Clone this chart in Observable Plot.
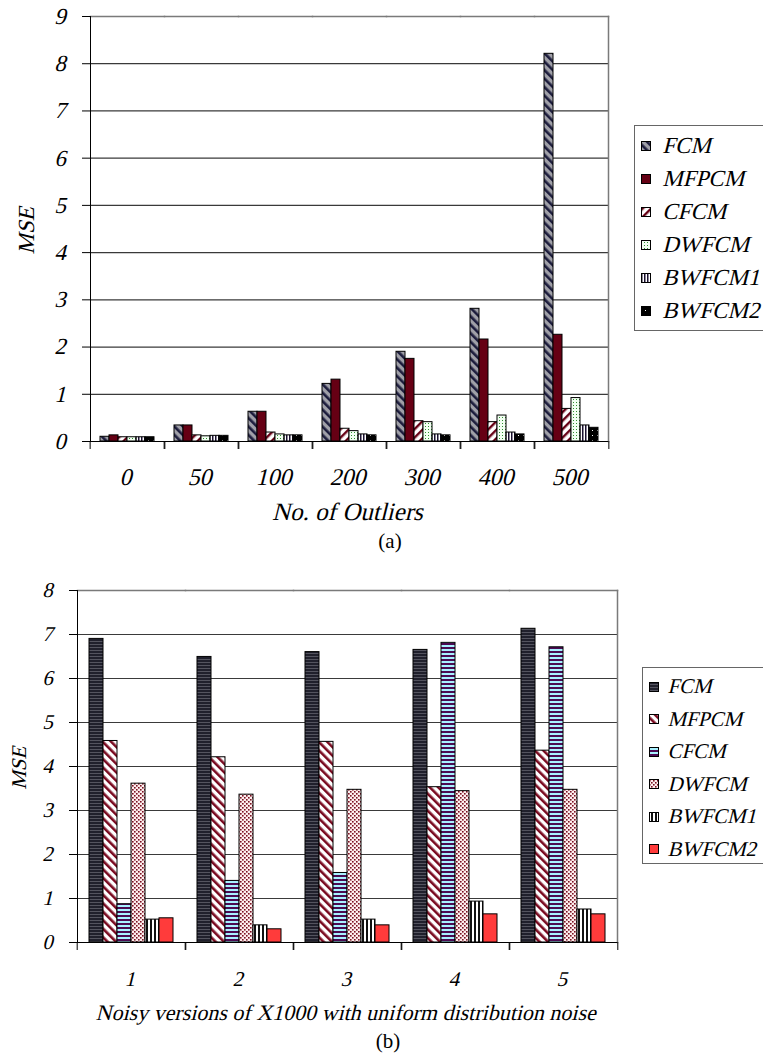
<!DOCTYPE html>
<html><head><meta charset="utf-8">
<script src="https://cdn.jsdelivr.net/npm/d3@7"></script>
<script src="https://cdn.jsdelivr.net/npm/@observablehq/plot@0.6"></script>
<style>
body{margin:0;background:#fff;}
#root{position:relative;width:763px;height:1054px;overflow:hidden;font-family:"Liberation Serif","Times New Roman",serif;}
#root > svg, #root > div{position:absolute;}
.legend{border:1px solid #666;background:#fff;box-sizing:border-box;}
.legend .row{position:absolute;left:0;display:flex;align-items:center;white-space:nowrap;}
.legend .row svg{display:block;}
.legend .row span{display:inline-block;transform:skewX(-14deg);}
.caption{font-size:21px;font-style:normal;transform:translate(-50%,-50%);white-space:nowrap;}
</style></head><body><div id="root"></div>
<script>
// ---------- Chart (a) data ----------
const seriesA = ["FCM", "MFPCM", "CFCM", "DWFCM", "BWFCM1", "BWFCM2"];
const groupsA = ["0", "50", "100", "200", "300", "400", "500"];
const fcmA    = [0.10, 0.34, 0.63, 1.22, 1.90, 2.81, 8.21];
const mfpcmA  = [0.13, 0.34, 0.63, 1.31, 1.75, 2.16, 2.26];
const cfcmA   = [0.09, 0.13, 0.19, 0.27, 0.43, 0.41, 0.69];
const dwfcmA  = [0.09, 0.11, 0.15, 0.22, 0.41, 0.55, 0.92];
const bwfcm1A = [0.09, 0.12, 0.13, 0.15, 0.15, 0.19, 0.34];
const bwfcm2A = [0.09, 0.12, 0.13, 0.13, 0.13, 0.15, 0.29];
const yTicksA = [0, 1, 2, 3, 4, 5, 6, 7, 8, 9];

// ---------- Chart (b) data ----------
const seriesB = ["FCM", "MFPCM", "CFCM", "DWFCM", "BWFCM1", "BWFCM2"];
const groupsB = ["1", "2", "3", "4", "5"];
const fcmB    = [6.90, 6.49, 6.60, 6.65, 7.13];
const mfpcmB  = [4.58, 4.21, 4.56, 3.53, 4.36];
const cfcmB   = [0.87, 1.40, 1.58, 6.81, 6.71];
const dwfcmB  = [3.61, 3.36, 3.47, 3.44, 3.47];
const bwfcm1B = [0.52, 0.39, 0.52, 0.93, 0.75];
const bwfcm2B = [0.55, 0.30, 0.39, 0.64, 0.64];
const yTicksB = [0, 1, 2, 3, 4, 5, 6, 7, 8];

const root = document.getElementById("root");

// ---------- fill patterns ----------
function stripes(id, bg, fg, size, w, angle) {
  return `<pattern id="${id}" patternUnits="userSpaceOnUse" width="${size}" height="${size}" patternTransform="rotate(${angle})">
    <rect width="${size}" height="${size}" fill="${bg}"/><rect width="${w}" height="${size}" fill="${fg}"/></pattern>`;
}
function dots(id, bg, fg, size, d, offset) {
  return `<pattern id="${id}" patternUnits="userSpaceOnUse" width="${size}" height="${size}">
    <rect width="${size}" height="${size}" fill="${bg}"/><rect x="0" y="0" width="${d}" height="${d}" fill="${fg}"/>
    ${offset ? `<rect x="${size/2}" y="${size/2}" width="${d}" height="${d}" fill="${fg}"/>` : ""}</pattern>`;
}
const defs = document.createElement("div");
defs.innerHTML = `<svg width="0" height="0" style="position:absolute"><defs>
  ${stripes("a-fcm", "#a0a0a8", "#1c1c3c", 6, 2.6, -45)}
  ${stripes("a-cfcm", "#ffffff", "#660014", 6, 2.4, 45)}
  ${dots("a-dwfcm", "#f2fff2", "#2f8f2f", 3, 1, false)}
  ${stripes("a-bw1", "#ffffff", "#1a1030", 3, 1.5, 0)}
  ${dots("a-bw2", "#000000", "#ffffff", 5, 1, false)}
  ${stripes("b-fcm", "#20202c", "#54545f", 3, 1, 90)}
  ${stripes("b-mfpcm", "#ffffff", "#7a0a20", 6, 2.6, -45)}
  ${stripes("b-cfcm", "#a8f0ff", "#4b0a52", 4, 2, 90)}
  ${dots("b-dwfcm", "#fdeeee", "#7a1020", 4, 1.6, true)}
  ${stripes("b-bw1", "#ffffff", "#111111", 4, 2, 0)}
</defs></svg>`;
root.appendChild(defs.firstChild);

const fillsA = ["url(#a-fcm)", "#660014", "url(#a-cfcm)", "url(#a-dwfcm)", "url(#a-bw1)", "url(#a-bw2)"];
const fillsB = ["url(#b-fcm)", "url(#b-mfpcm)", "url(#b-cfcm)", "url(#b-dwfcm)", "url(#b-bw1)", "#ff3b3b"];

function chart(cfg) {
  const rows = [];
  cfg.groups.forEach((g, i) => cfg.series.forEach((s, j) => rows.push({group: g, series: s, value: cfg.values[j][i]})));
  const step = (cfg.width - cfg.ml - cfg.mr) / cfg.groups.length;
  const first = cfg.groups[0], last = cfg.groups[cfg.groups.length - 1];
  return Plot.plot({
    width: cfg.width, height: cfg.height,
    marginLeft: cfg.ml, marginRight: cfg.mr, marginTop: cfg.mt, marginBottom: cfg.mb,
    style: {fontFamily: "\"Liberation Serif\", \"Times New Roman\", serif", fontStyle: "normal", fontSize: cfg.fs + "px", background: "transparent", color: "#000"},
    fx: {domain: cfg.groups, padding: 0},
    x: {domain: cfg.series, paddingInner: 0, paddingOuter: 0.75, axis: null},
    y: {domain: [0, cfg.yTicks[cfg.yTicks.length - 1]]},
    color: {domain: cfg.series, range: cfg.fills},
    marks: [
      Plot.gridY(cfg.yTicks, {stroke: "#3a3a3a", strokeOpacity: 1, strokeWidth: 1.2}),
      Plot.frame({anchor: "top", stroke: "#7a7a7a", strokeWidth: 1.5}),
      Plot.frame({anchor: "right", stroke: "#7a7a7a", strokeWidth: 1.5, fx: () => last}),
      Plot.frame({anchor: "left", stroke: "#000", strokeWidth: 1, fx: () => first}),
      Plot.ruleY([0], {stroke: "#000", strokeWidth: 1.2}),
      Plot.barY(rows, {fx: "group", x: "series", y: "value", fill: "series", stroke: "#000", strokeWidth: 1}),
      Plot.axisY(cfg.yTicks, {tickSize: 8, tickPadding: 15, fontSize: cfg.yfs, label: "MSE", labelAnchor: "center", labelArrow: "none", labelOffset: cfg.yLabelOffset}),
      Plot.axisFx({anchor: "bottom", tickSize: 0, tickPadding: cfg.fxPad, label: null}),
      Plot.axisFx({anchor: "bottom", text: null, tickSize: 0, fontSize: cfg.lfs, label: cfg.xLabel, labelAnchor: "center", labelOffset: cfg.xLabelOffset}),
      Plot.axisFx({anchor: "bottom", text: null, label: null, tickSize: 8, dx: -step / 2}),
      Plot.axisFx([last], {anchor: "bottom", text: null, label: null, tickSize: 8, dx: step / 2})
    ]
  });
}

// synthetic italic (serif italic face may be unavailable): slant each text about its own centre
function italicize(svg, angle) {
  svg.querySelectorAll("text").forEach(t => {
    const b = t.getBBox();
    const cx = b.x + b.width / 2, cy = b.y + b.height / 2;
    const prev = t.getAttribute("transform") || "";
    t.setAttribute("transform", `${prev} translate(${cx},${cy}) skewX(${angle}) translate(${-cx},${-cy})`);
  });
}

const svgA = chart({
  series: seriesA, groups: groupsA, values: [fcmA, mfpcmA, cfcmA, dwfcmA, bwfcm1A, bwfcm2A],
  fills: fillsA, yTicks: yTicksA,
  width: 620, height: 525, ml: 87, mr: 10, mt: 16, mb: 84, fs: 24, yfs: 23, lfs: 25,
  fxPad: 26, xLabel: "No. of Outliers", xLabelOffset: 78, yLabelOffset: 73
});
svgA.style.left = "0px"; svgA.style.top = "0px";
root.appendChild(svgA);
italicize(svgA, -14);

const svgB = chart({
  series: seriesB, groups: groupsB, values: [fcmB, mfpcmB, cfcmB, dwfcmB, bwfcm1B, bwfcm2B],
  fills: fillsB, yTicks: yTicksB,
  width: 628, height: 455, ml: 75, mr: 10, mt: 15, mb: 88, fs: 21, yfs: 21, lfs: 22,
  fxPad: 29, xLabel: "Noisy versions of X1000 with uniform distribution noise", xLabelOffset: 77, yLabelOffset: 66
});
svgB.style.left = "0px"; svgB.style.top = "575px";
root.appendChild(svgB);
italicize(svgB, -14);

// ---------- legends ----------
function legend(series, fills, left, top, w, h, fs, rowStep, firstRow, textX) {
  const box = document.createElement("div");
  box.className = "legend";
  Object.assign(box.style, {left: left + "px", top: top + "px", width: w + "px", height: h + "px", fontSize: fs + "px"});
  series.forEach((s, i) => {
    const row = document.createElement("div");
    row.className = "row";
    row.style.top = (firstRow + i * rowStep - fs * 0.6) + "px";
    row.style.height = (fs * 1.2) + "px";
    row.innerHTML = `<svg width="${textX}" height="12"><rect x="6.5" y="1.5" width="9" height="9" fill="${fills[i]}" stroke="#000" stroke-width="1"/></svg><span>${s}</span>`;
    box.appendChild(row);
  });
  root.appendChild(box);
}
legend(seriesA, fillsA, 634, 125, 140, 206, 23, 33, 20, 29);
legend(seriesB, fillsB, 642, 667, 130, 197, 21, 32.5, 19, 26);

// ---------- captions ----------
function caption(text, x, y) {
  const c = document.createElement("div");
  c.className = "caption";
  c.textContent = text;
  c.style.left = x + "px"; c.style.top = y + "px";
  root.appendChild(c);
}
caption("(a)", 390, 541);
caption("(b)", 388, 1041);
</script></body></html>
